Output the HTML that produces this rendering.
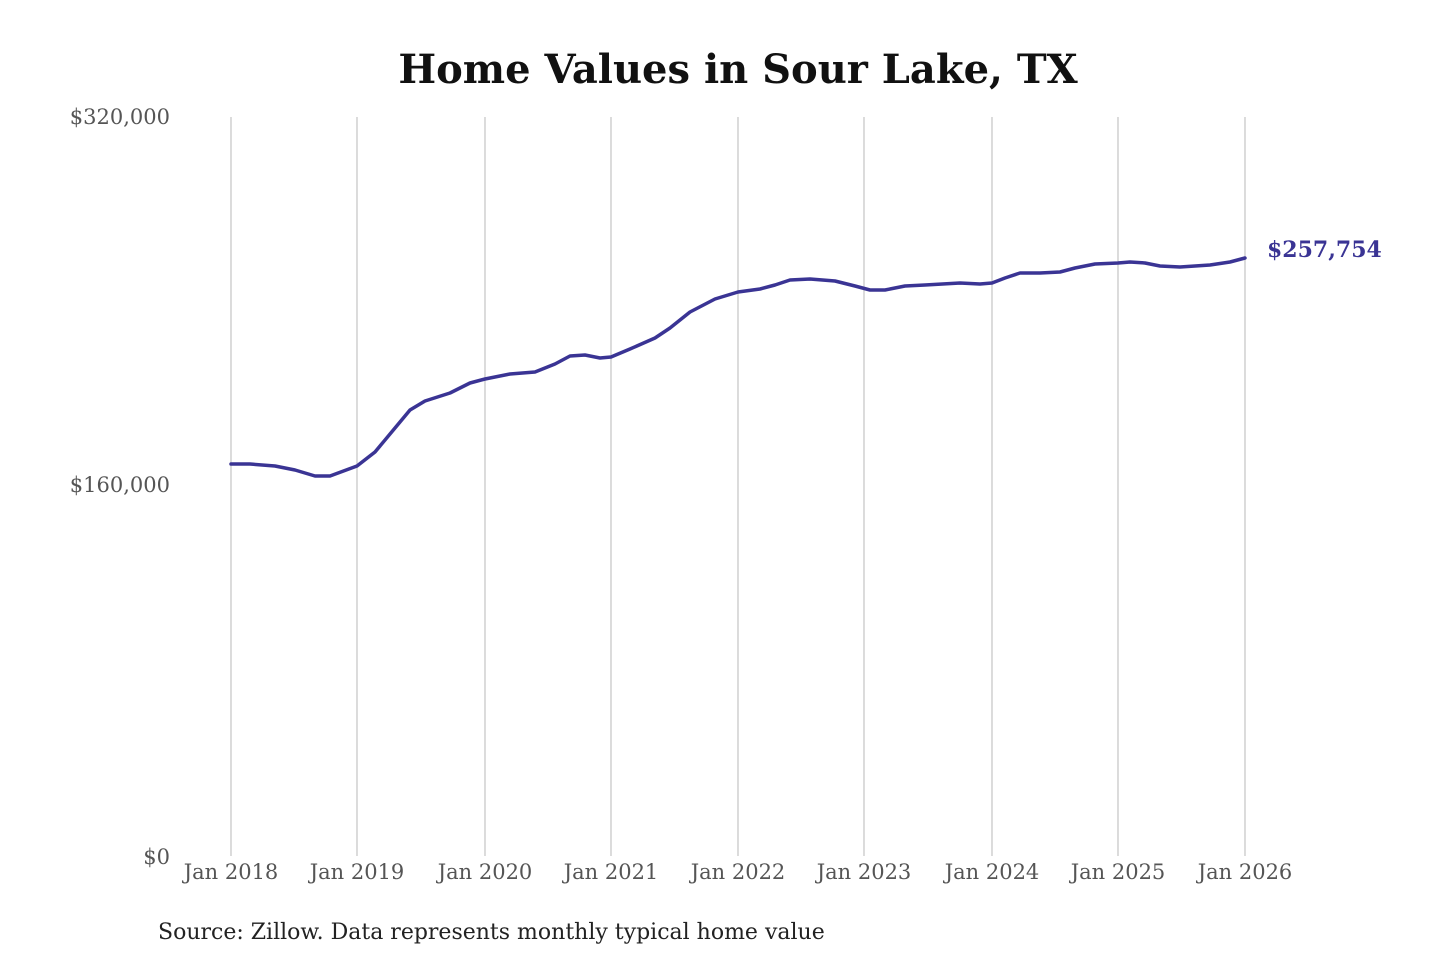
<!DOCTYPE html>
<html><head><meta charset="utf-8"><style>
body{margin:0;background:#fff;}
svg{display:block;}
text{font-family:"DejaVu Serif","Liberation Serif",serif;}
</style></head><body>
<svg width="1440" height="960" viewBox="0 0 1440 960">
<rect width="1440" height="960" fill="#fff"/>
<text x="738" y="83" text-anchor="middle" font-size="40" font-weight="bold" fill="#111">Home Values in Sour Lake, TX</text>
<g stroke="#c8c8c8" stroke-width="1.3">
<line x1="231" y1="117" x2="231" y2="856"/>
<line x1="357" y1="117" x2="357" y2="856"/>
<line x1="485" y1="117" x2="485" y2="856"/>
<line x1="611" y1="117" x2="611" y2="856"/>
<line x1="738" y1="117" x2="738" y2="856"/>
<line x1="864" y1="117" x2="864" y2="856"/>
<line x1="992" y1="117" x2="992" y2="856"/>
<line x1="1118" y1="117" x2="1118" y2="856"/>
<line x1="1245" y1="117" x2="1245" y2="856"/>
</g>
<g font-size="21" fill="#555" text-anchor="end">
<text x="170" y="124">$320,000</text>
<text x="170" y="492">$160,000</text>
<text x="170" y="864">$0</text>
</g>
<g font-size="21" fill="#555" text-anchor="middle">
<text x="231" y="879">Jan 2018</text>
<text x="357" y="879">Jan 2019</text>
<text x="485" y="879">Jan 2020</text>
<text x="611" y="879">Jan 2021</text>
<text x="738" y="879">Jan 2022</text>
<text x="864" y="879">Jan 2023</text>
<text x="992" y="879">Jan 2024</text>
<text x="1118" y="879">Jan 2025</text>
<text x="1245" y="879">Jan 2026</text>
</g>
<polyline fill="none" stroke="#3a3494" stroke-width="3.5" stroke-linejoin="round" stroke-linecap="round" points="231,464 250,464 275,466 295,470 315,476 330,476 357,466 375,452 395,428 410,410 425,401 450,393 470,383 485,379 510,374 535,372 555,364 570,356 585,355 600,358 611,357 630,349 655,338 670,328 690,312 715,299 738,292 760,289 775,285 790,280 810,279 835,281 855,286 870,290 885,290 905,286 925,285 960,283 980,284 992,283 1005,278 1020,273 1040,273 1060,272 1075,268 1095,264 1118,263 1130,262 1145,263 1160,266 1180,267 1210,265 1230,262 1245,258"/>
<text x="1267" y="257" font-size="22" font-weight="bold" fill="#3a3494">$257,754</text>
<text x="158" y="939" font-size="22" fill="#222">Source: Zillow. Data represents monthly typical home value</text>
</svg>
</body></html>
